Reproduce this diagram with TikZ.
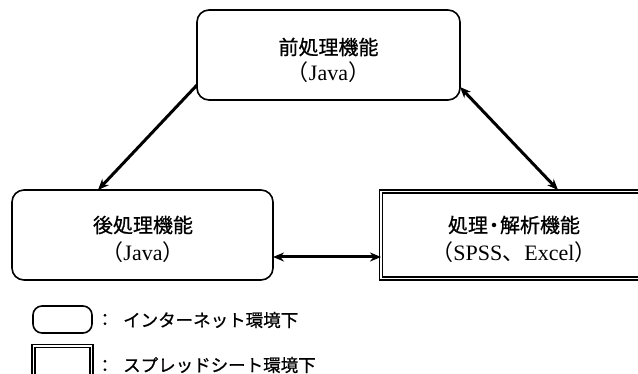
\documentclass[tikz,border=0pt]{standalone}
\usepackage{fontspec}
\newfontfamily\jpfont[FakeBold=0.8]{Noto Sans CJK JP}
\newfontfamily\jpparen{Noto Sans CJK JP}
\newfontfamily\serifont{Liberation Serif}
\usetikzlibrary{arrows.meta}
\tikzset{
  x=1pt,y=-1pt,
  rbox/.style={draw=black,line width=1.6pt,rounded corners=12pt,inner sep=0pt},
  dbox/.style={draw=black,line width=1.5pt,double=white,double distance=1.8pt,inner sep=0pt},
  jtext/.style={font=\jpfont\fontsize{20}{23}\selectfont,inner sep=0pt},
  stext/.style={font=\serifont\fontsize{22}{26}\selectfont,inner sep=0pt},
  ltext/.style={font=\jpfont\fontsize{17.5}{20}\selectfont,inner sep=0pt,anchor=west},
  tip/.tip={Stealth[length=11pt,width=9pt]},
  conn/.style={line width=3pt,-tip},
  dconn/.style={line width=3pt,tip-tip},
}
\begin{document}
\begin{tikzpicture}
\useasboundingbox (0,0) rectangle (638,374);
\clip (0,0) rectangle (638,374);
% boxes
\node[rbox,minimum width=263pt,minimum height=90pt] (pre) at (328.5,55) {};
\node[rbox,minimum width=261pt,minimum height=90pt] (post) at (142.5,235) {};
\node[dbox,minimum width=270pt,minimum height=87pt] (ana) at (516,235) {};
% texts
\node[jtext] (pret1) at (328.5,47) {前処理機能};
\node[stext] (pret2) at (328.5,72) {{\jpparen （}Java{\jpparen ）}};
\node[jtext] (postt1) at (143,225) {後処理機能};
\node[stext] (postt2) at (143,252) {{\jpparen （}Java{\jpparen ）}};
\node[jtext] (anat1) at (514,225) {処理\kern-4pt・\kern-4pt 解析機能};
\node[stext] (anat2) at (514,252) {{\jpparen （}SPSS{\jpparen 、}Excel{\jpparen ）}};
% connectors
\coordinate (preL) at (197,85);
\coordinate (preR) at (460,87);
\coordinate (postT) at (98,190);
\coordinate (anaT) at (558,190);
\coordinate (postR) at (273,257);
\coordinate (anaL) at (381,257);
\draw[conn] (preL) -- (postT);
\draw[dconn] (preR) -- (anaT);
\draw[dconn] (postR) -- (anaL);
% legend
\node[rbox,minimum width=59pt,minimum height=27pt,rounded corners=9pt] (leg1) at (62.5,319.5) {};
\node[dbox,minimum width=58pt,minimum height=50pt] (leg2) at (62.5,371) {};
\node[ltext,anchor=center] (c1) at (105,320) {：};
\node[ltext] (l1) at (123,320) {インターネット環境下};
\node[ltext,anchor=center] (c2) at (105,366) {：};
\node[ltext] (l2) at (123,365) {スプレッドシート環境下};
\end{tikzpicture}
\end{document}
